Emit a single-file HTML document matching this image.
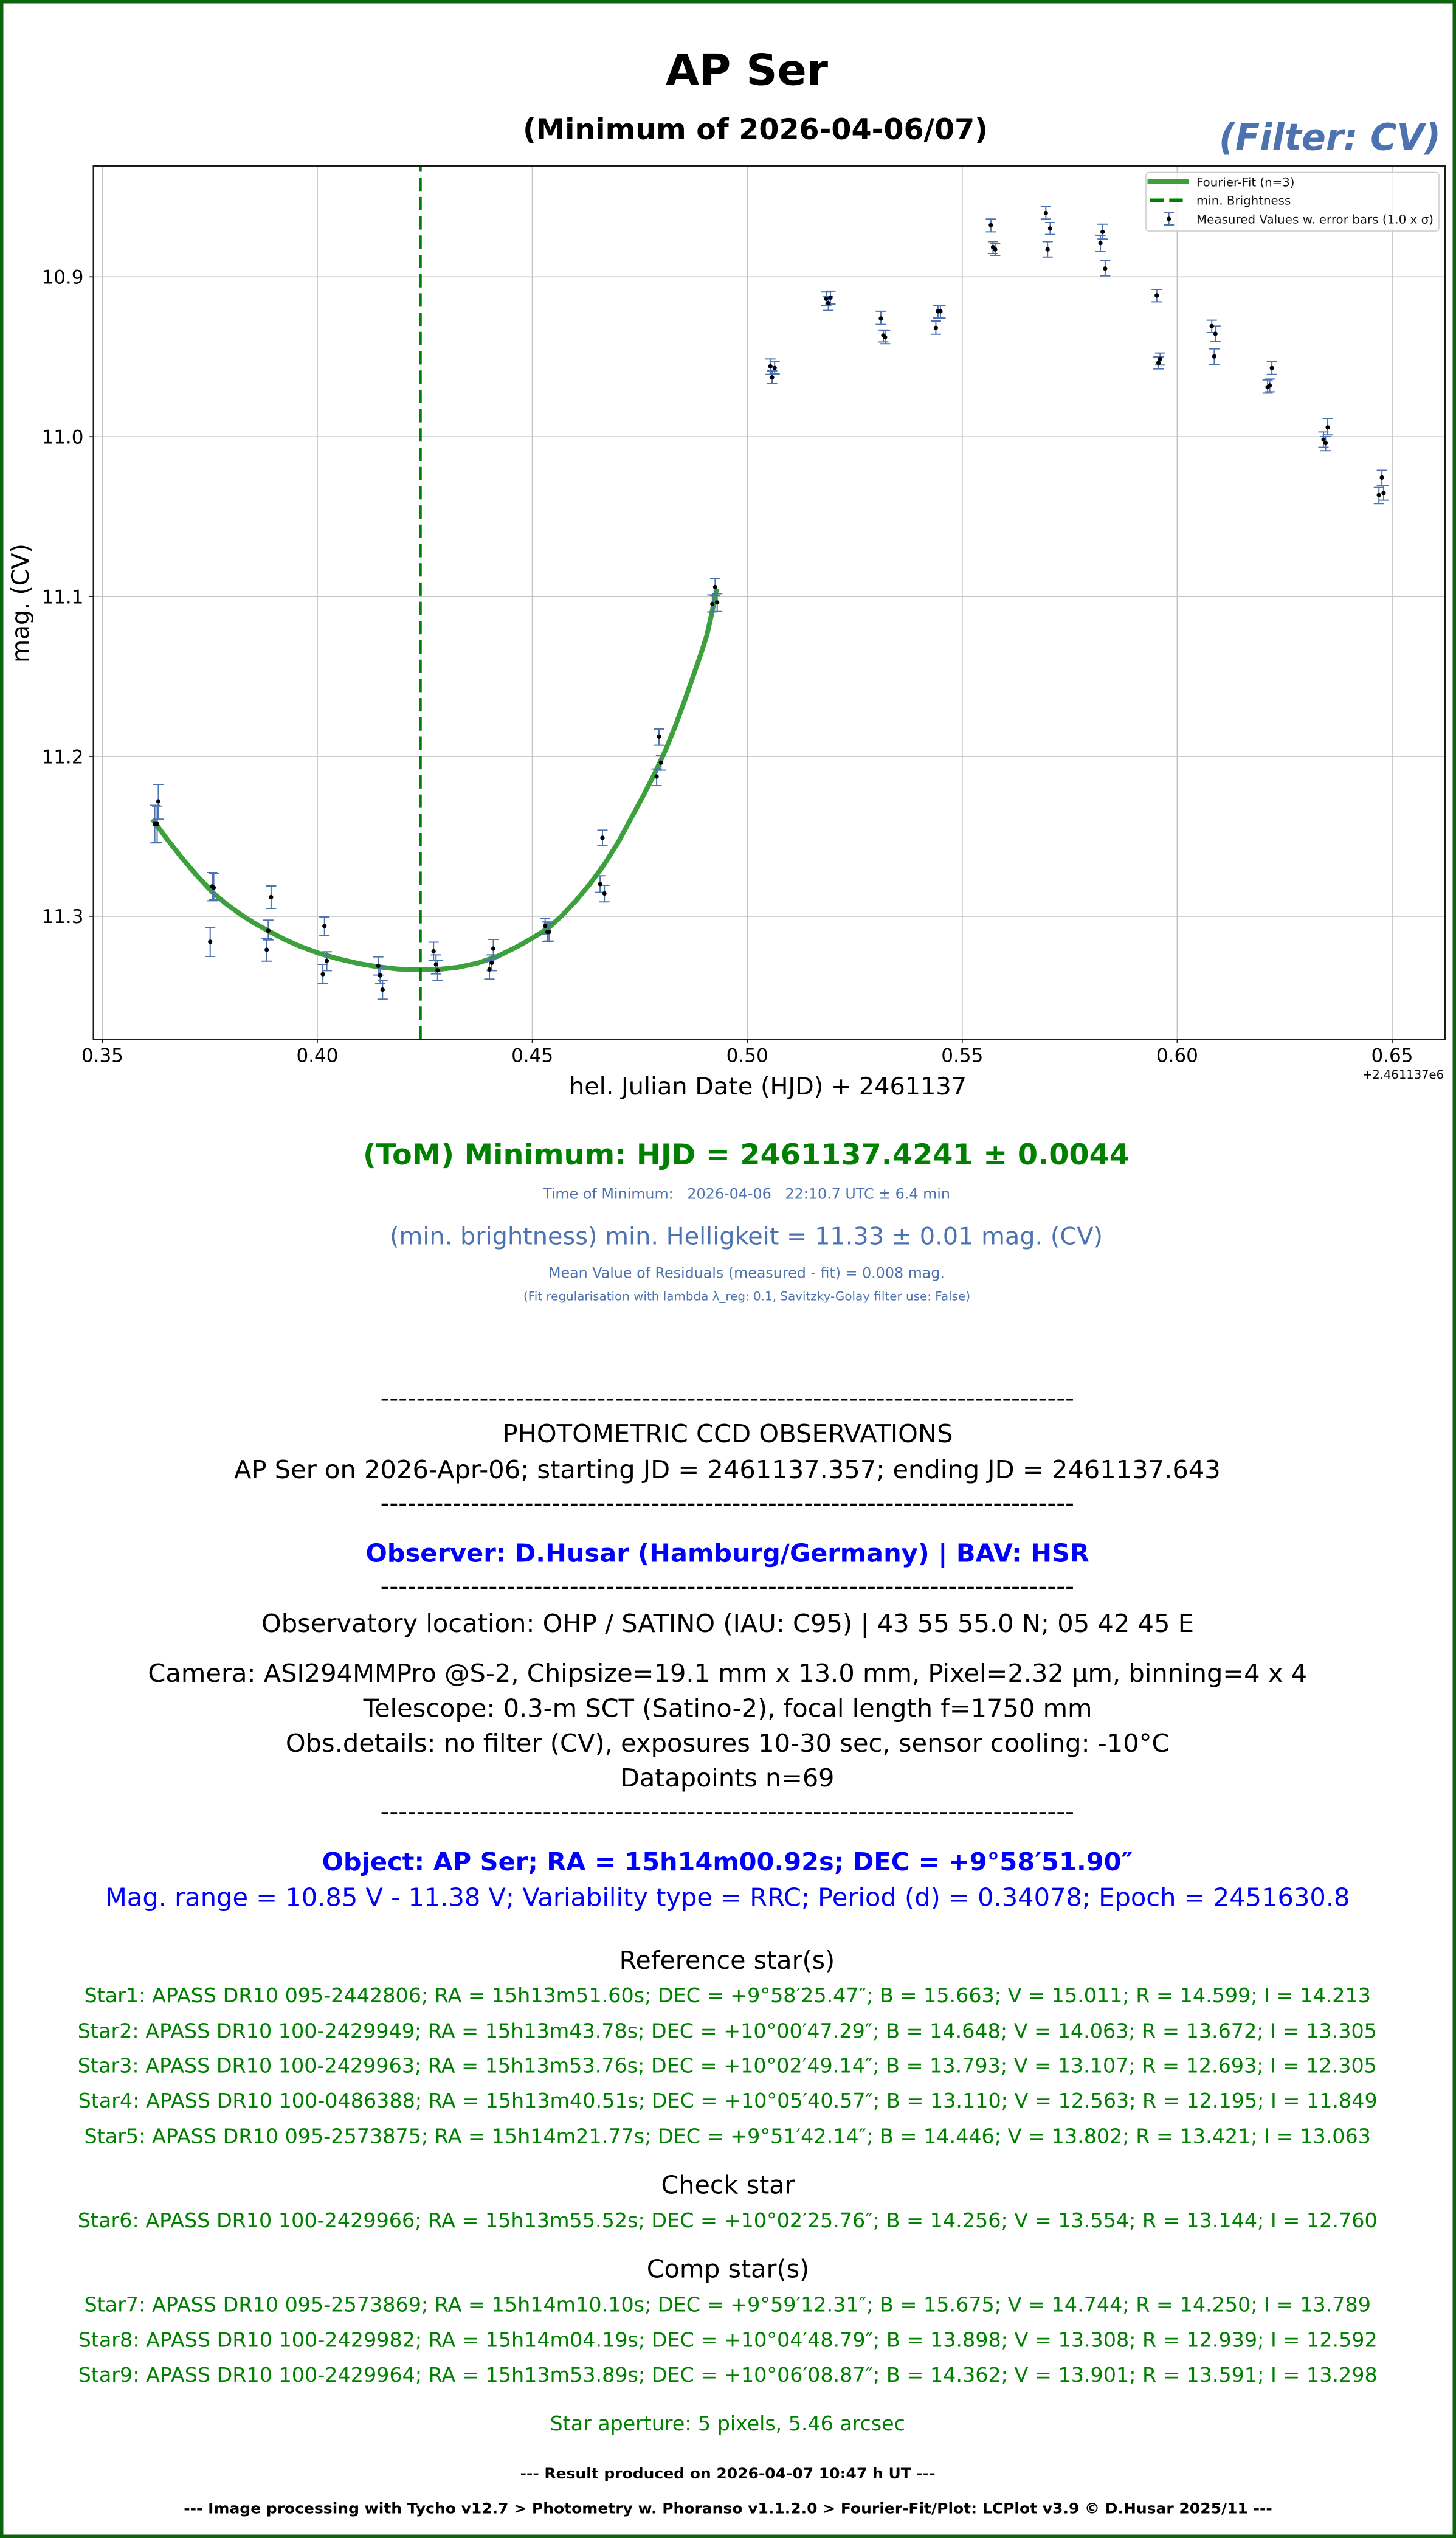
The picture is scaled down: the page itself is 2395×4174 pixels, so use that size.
<!DOCTYPE html>
<html><head><meta charset="utf-8"><style>
html,body{margin:0;padding:0;background:#fff;}
svg{display:block;}
text{font-family:"DejaVu Sans","Liberation Sans",sans-serif;}
.b{font-weight:bold;}
.tk{font-size:31px;fill:#000;}
.bl{fill:#4c72b0;}
.gr{fill:#008000;}
.blue{fill:#0000ff;}
.n41{font-size:41.3px;fill:#000;}
.s33{font-size:33px;fill:#008000;}
</style></head><body>
<svg width="2395" height="4174" viewBox="0 0 2395 4174" xmlns="http://www.w3.org/2000/svg">
<rect x="0" y="0" width="2395" height="4174" fill="#fff"/>
<rect x="2.75" y="2.75" width="2389.5" height="4168.5" fill="none" stroke="#0b640b" stroke-width="5.5"/>

<!-- Titles -->
<text x="1095" y="139.7" class="b" font-size="70" textLength="267" lengthAdjust="spacingAndGlyphs">AP Ser</text>
<text x="860" y="229" class="b" font-size="47.5" textLength="765" lengthAdjust="spacingAndGlyphs">(Minimum of 2026-04-06/07)</text>
<text x="2005" y="246.4" class="b bl" font-size="61" font-style="italic" textLength="365" lengthAdjust="spacingAndGlyphs">(Filter: CV)</text>

<!-- Grid -->
<g stroke="#c4c4c4" stroke-width="1.7">
<line x1="168.4" y1="273" x2="168.4" y2="1709"/>
<line x1="522" y1="273" x2="522" y2="1709"/>
<line x1="875.6" y1="273" x2="875.6" y2="1709"/>
<line x1="1229.2" y1="273" x2="1229.2" y2="1709"/>
<line x1="1582.8" y1="273" x2="1582.8" y2="1709"/>
<line x1="1936.4" y1="273" x2="1936.4" y2="1709"/>
<line x1="2290" y1="273" x2="2290" y2="1709"/>
<line x1="153.5" y1="455.3" x2="2377" y2="455.3"/>
<line x1="153.5" y1="718.2" x2="2377" y2="718.2"/>
<line x1="153.5" y1="981.1" x2="2377" y2="981.1"/>
<line x1="153.5" y1="1244" x2="2377" y2="1244"/>
<line x1="153.5" y1="1506.9" x2="2377" y2="1506.9"/>
</g>

<!-- Fourier fit curve -->
<polyline fill="none" stroke="#3ca03c" stroke-width="8" stroke-linejoin="round" points="250.7,1347.2 274,1379 297.6,1409 323,1439 349.6,1467.6 372,1486.5 395.2,1503.4 418,1518 442,1531.3 467,1544.5 492.7,1556 525.3,1568 557,1577 590.3,1584.7 622,1590 655.4,1593.8 692.4,1595 720.4,1594.4 752,1591 785.5,1584 818,1573 850.5,1557 877,1542 902.5,1526 925,1505 948.1,1480.6 971,1453 993.6,1422.1 1017,1385 1039.1,1344 1059,1307 1078.2,1269.2 1095,1233 1110.7,1194.4 1127,1150 1143.2,1103.3 1153,1075 1162.7,1044.8 1171,1008 1179,968"/>

<!-- min brightness dashed line -->
<line x1="691.5" y1="1709" x2="691.5" y2="273" stroke="#008000" stroke-width="4.5" stroke-dasharray="22 9.7"/>

<!-- Error bars -->
<path fill="none" stroke="#4c72b0" stroke-width="2" d="
M254.6 1324.5V1386.3M246.1 1324.5h17M246.1 1386.3h17
M258.5 1325.8V1385M250 1325.8h17M250 1385h17
M260.5 1290V1347.3M252 1290h17M252 1347.3h17
M349 1435V1481.4M340.5 1435h17M340.5 1481.4h17
M351.6 1437V1480M343.1 1437h17M343.1 1480h17
M345.7 1526V1573M337.2 1526h17M337.2 1573h17
M441.3 1513.3V1545.7M432.8 1513.3h17M432.8 1545.7h17
M438.7 1544V1580.8M430.2 1544h17M430.2 1580.8h17
M445.9 1457V1494M437.4 1457h17M437.4 1494h17
M533.7 1508V1538.5M525.2 1508h17M525.2 1538.5h17
M537.6 1565.2V1596.4M529.1 1565.2h17M529.1 1596.4h17
M531.1 1586V1617.9M522.6 1586h17M522.6 1617.9h17
M622.2 1573.6V1603.6M613.7 1573.6h17M613.7 1603.6h17
M625.4 1590V1618M616.9 1590h17M616.9 1618h17
M629.3 1612.6V1643.2M620.8 1612.6h17M620.8 1643.2h17
M713.2 1549.5V1580M704.7 1549.5h17M704.7 1580h17
M717.2 1570.4V1601.6M708.7 1570.4h17M708.7 1601.6h17
M719.8 1580V1612M711.3 1580h17M711.3 1612h17
M811.5 1545V1575.6M803 1545h17M803 1575.6h17
M808.9 1570.4V1596.4M800.4 1570.4h17M800.4 1596.4h17
M805 1579.5V1610.3M796.5 1579.5h17M796.5 1610.3h17
M896.7 1510.5V1535.9M888.2 1510.5h17M888.2 1535.9h17
M900.6 1516.3V1548.9M892.1 1516.3h17M892.1 1548.9h17
M903.2 1517.7V1547.6M894.7 1517.7h17M894.7 1547.6h17
M991 1365.4V1390.8M982.5 1365.4h17M982.5 1390.8h17
M987.1 1440.3V1467.6M978.6 1440.3h17M978.6 1467.6h17
M994.2 1456V1483.2M985.7 1456h17M985.7 1483.2h17
M1084 1198.9V1225.6M1075.5 1198.9h17M1075.5 1225.6h17
M1087.3 1242.5V1266.6M1078.8 1242.5h17M1078.8 1266.6h17
M1080.1 1264.6V1292M1071.6 1264.6h17M1071.6 1292h17
M1176.4 951.7V979.7M1167.9 951.7h17M1167.9 979.7h17
M1171.8 978.4V1006.4M1163.3 978.4h17M1163.3 1006.4h17
M1179.7 976.5V1005.7M1171.2 976.5h17M1171.2 1005.7h17
M1267.2 590.4V615.7M1258.7 590.4h17M1258.7 615.7h17
M1274.2 594V615M1265.7 594h17M1265.7 615h17
M1270 610V631M1261.5 610h17M1261.5 631h17
M1359 480.3V502.7M1350.5 480.3h17M1350.5 502.7h17
M1366 478.9V500M1357.5 478.9h17M1357.5 500h17
M1362.6 488V510.5M1354.1 488h17M1354.1 510.5h17
M1448.9 511.9V533.6M1440.4 511.9h17M1440.4 533.6h17
M1453 542.7V562.4M1444.5 542.7h17M1444.5 562.4h17
M1455.9 544V565.2M1447.4 544h17M1447.4 565.2h17
M1539.4 528V549.7M1530.9 528h17M1530.9 549.7h17
M1542.9 502V523M1534.4 502h17M1534.4 523h17
M1547 502.7V523.1M1538.5 502.7h17M1538.5 523.1h17
M1629.9 360.3V381.4M1621.4 360.3h17M1621.4 381.4h17
M1633.4 397.5V417M1624.9 397.5h17M1624.9 417h17
M1636.9 400V420M1628.4 400h17M1628.4 420h17
M1720.3 339.3V360.3M1711.8 339.3h17M1711.8 360.3h17
M1727.4 366V385.6M1718.9 366h17M1718.9 385.6h17
M1723.2 397.5V422.8M1714.7 397.5h17M1714.7 422.8h17
M1813.6 368.7V393.3M1805.1 368.7h17M1805.1 393.3h17
M1810.1 387V413M1801.6 387h17M1801.6 413h17
M1817.9 429V453.6M1809.4 429h17M1809.4 453.6h17
M1902.7 476V496.4M1894.2 476h17M1894.2 496.4h17
M1905.6 587V606.6M1897.1 587h17M1897.1 606.6h17
M1908.3 580.6V600.2M1899.8 580.6h17M1899.8 600.2h17
M1993.2 526.6V547M1984.7 526.6h17M1984.7 547h17
M1999.3 536.4V561.7M1990.8 536.4h17M1990.8 561.7h17
M1997.4 573.6V599.5M1988.9 573.6h17M1988.9 599.5h17
M2092.1 594V615.7M2083.6 594h17M2083.6 615.7h17
M2085.1 624.8V646.5M2076.6 624.8h17M2076.6 646.5h17
M2088.6 623.4V644.4M2080.1 623.4h17M2080.1 644.4h17
M2184 688V715.3M2175.5 688h17M2175.5 715.3h17
M2177 710.4V735.6M2168.5 710.4h17M2168.5 735.6h17
M2180.5 718V741.2M2172 718h17M2172 741.2h17
M2273.1 773.5V798M2264.6 773.5h17M2264.6 798h17
M2268.2 801.6V828.2M2259.7 801.6h17M2259.7 828.2h17
M2275.9 798V822.6M2267.4 798h17M2267.4 822.6h17"/>

<!-- Data points -->
<g fill="#000">
<circle cx="254.6" cy="1355.1" r="3.6"/><circle cx="258.5" cy="1355.1" r="3.6"/><circle cx="260.5" cy="1318" r="3.6"/>
<circle cx="349" cy="1457.8" r="3.6"/><circle cx="351.6" cy="1459.8" r="3.6"/><circle cx="345.7" cy="1548.9" r="3.6"/>
<circle cx="441.3" cy="1530.7" r="3.6"/><circle cx="438.7" cy="1561.9" r="3.6"/><circle cx="445.9" cy="1475.4" r="3.6"/>
<circle cx="533.7" cy="1522.9" r="3.6"/><circle cx="537.6" cy="1580.1" r="3.6"/><circle cx="531.1" cy="1602.2" r="3.6"/>
<circle cx="622.2" cy="1588.6" r="3.6"/><circle cx="625.4" cy="1604.2" r="3.6"/><circle cx="629.3" cy="1627.6" r="3.6"/>
<circle cx="713.2" cy="1564.5" r="3.6"/><circle cx="717.2" cy="1586" r="3.6"/><circle cx="719.8" cy="1595.8" r="3.6"/>
<circle cx="811.5" cy="1560" r="3.6"/><circle cx="808.9" cy="1583.4" r="3.6"/><circle cx="805" cy="1594.4" r="3.6"/>
<circle cx="896.7" cy="1522.9" r="3.6"/><circle cx="900.6" cy="1532.6" r="3.6"/><circle cx="903.2" cy="1532.6" r="3.6"/>
<circle cx="991" cy="1377.8" r="3.6"/><circle cx="987.1" cy="1453.9" r="3.6"/><circle cx="994.2" cy="1469.5" r="3.6"/>
<circle cx="1084" cy="1211.3" r="3.6"/><circle cx="1087.3" cy="1254.2" r="3.6"/><circle cx="1080.1" cy="1277" r="3.6"/>
<circle cx="1176.4" cy="965.4" r="3.6"/><circle cx="1171.8" cy="993.4" r="3.6"/><circle cx="1179.7" cy="990.8" r="3.6"/>
<circle cx="1267.2" cy="602.4" r="3.6"/><circle cx="1274.2" cy="605.2" r="3.6"/><circle cx="1270" cy="620.6" r="3.6"/>
<circle cx="1359" cy="491.5" r="3.6"/><circle cx="1366" cy="489.4" r="3.6"/><circle cx="1362.6" cy="498.5" r="3.6"/>
<circle cx="1448.9" cy="523.8" r="3.6"/><circle cx="1453" cy="551.8" r="3.6"/><circle cx="1455.9" cy="554.6" r="3.6"/>
<circle cx="1539.4" cy="539.2" r="3.6"/><circle cx="1542.9" cy="511.9" r="3.6"/><circle cx="1547" cy="511.9" r="3.6"/>
<circle cx="1629.9" cy="370.2" r="3.6"/><circle cx="1633.4" cy="406.6" r="3.6"/><circle cx="1636.9" cy="410.1" r="3.6"/>
<circle cx="1720.3" cy="350.5" r="3.6"/><circle cx="1727.4" cy="375.8" r="3.6"/><circle cx="1723.2" cy="410.1" r="3.6"/>
<circle cx="1813.6" cy="381.4" r="3.6"/><circle cx="1810.1" cy="399.6" r="3.6"/><circle cx="1817.9" cy="441.7" r="3.6"/>
<circle cx="1902.7" cy="485.9" r="3.6"/><circle cx="1905.6" cy="596.7" r="3.6"/><circle cx="1908.3" cy="590.4" r="3.6"/>
<circle cx="1993.2" cy="536.4" r="3.6"/><circle cx="1999.3" cy="549" r="3.6"/><circle cx="1997.4" cy="586.2" r="3.6"/>
<circle cx="2092.1" cy="605.2" r="3.6"/><circle cx="2085.1" cy="636.7" r="3.6"/><circle cx="2088.6" cy="633.9" r="3.6"/>
<circle cx="2184" cy="702.7" r="3.6"/><circle cx="2177" cy="723" r="3.6"/><circle cx="2180.5" cy="728.6" r="3.6"/>
<circle cx="2273.1" cy="785.4" r="3.6"/><circle cx="2268.2" cy="814.2" r="3.6"/><circle cx="2275.9" cy="810.7" r="3.6"/>
</g>

<!-- Legend -->
<rect x="1885" y="283.5" width="482" height="96.5" rx="5" fill="#fff" fill-opacity="0.8" stroke="#cccccc" stroke-width="1.5"/>
<line x1="1887.5" y1="299" x2="1956" y2="299" stroke="#3ca03c" stroke-width="8"/>
<line x1="1891.7" y1="329.3" x2="1945.7" y2="329.3" stroke="#008000" stroke-width="5.5" stroke-dasharray="22.3 9.3"/>
<path fill="none" stroke="#4c72b0" stroke-width="2" d="M1922.7 350V370M1914.2 350h17M1914.2 370h17"/>
<circle cx="1922.7" cy="360" r="3.6" fill="#000"/>
<g font-size="19.6" fill="#111">
<text x="1968" y="306.5" textLength="161.4" lengthAdjust="spacingAndGlyphs">Fourier-Fit (n=3)</text>
<text x="1968" y="336.5" textLength="155.3" lengthAdjust="spacingAndGlyphs">min. Brightness</text>
<text x="1968" y="367.5" textLength="390" lengthAdjust="spacingAndGlyphs">Measured Values w. error bars (1.0 x σ)</text>
</g>

<!-- Axes frame -->
<rect x="153.5" y="273" width="2223.5" height="1436" fill="none" stroke="#1a1a1a" stroke-width="2"/>

<!-- Ticks -->
<g stroke="#1a1a1a" stroke-width="1.7">
<line x1="168.4" y1="1709" x2="168.4" y2="1716"/>
<line x1="522" y1="1709" x2="522" y2="1716"/>
<line x1="875.6" y1="1709" x2="875.6" y2="1716"/>
<line x1="1229.2" y1="1709" x2="1229.2" y2="1716"/>
<line x1="1582.8" y1="1709" x2="1582.8" y2="1716"/>
<line x1="1936.4" y1="1709" x2="1936.4" y2="1716"/>
<line x1="2290" y1="1709" x2="2290" y2="1716"/>
<line x1="146.5" y1="455.3" x2="153.5" y2="455.3"/>
<line x1="146.5" y1="718.2" x2="153.5" y2="718.2"/>
<line x1="146.5" y1="981.1" x2="153.5" y2="981.1"/>
<line x1="146.5" y1="1244" x2="153.5" y2="1244"/>
<line x1="146.5" y1="1506.9" x2="153.5" y2="1506.9"/>
</g>
<g class="tk" text-anchor="middle">
<text x="168.4" y="1746.3">0.35</text>
<text x="522" y="1746.3">0.40</text>
<text x="875.6" y="1746.3">0.45</text>
<text x="1229.2" y="1746.3">0.50</text>
<text x="1582.8" y="1746.3">0.55</text>
<text x="1936.4" y="1746.3">0.60</text>
<text x="2290" y="1746.3">0.65</text>
</g>
<g class="tk" text-anchor="end">
<text x="137.5" y="466.6">10.9</text>
<text x="137.5" y="729.5">11.0</text>
<text x="137.5" y="992.4">11.1</text>
<text x="137.5" y="1255.3">11.2</text>
<text x="137.5" y="1518.2">11.3</text>
</g>
<text x="2241" y="1774" font-size="19.5" textLength="134" lengthAdjust="spacingAndGlyphs">+2.461137e6</text>
<text x="936" y="1800" font-size="39" textLength="654" lengthAdjust="spacingAndGlyphs">hel. Julian Date (HJD) + 2461137</text>
<text transform="translate(47,992) rotate(-90)" text-anchor="middle" font-size="39">mag. (CV)</text>

<!-- Result texts -->
<text x="597" y="1915" class="b gr" font-size="47.5" textLength="1261" lengthAdjust="spacingAndGlyphs">(ToM) Minimum: HJD = 2461137.4241 ± 0.0044</text>
<text x="893" y="1971.6" class="bl" font-size="23.7" textLength="670" lengthAdjust="spacingAndGlyphs" xml:space="preserve" style="white-space:pre">Time of Minimum:   2026-04-06   22:10.7 UTC ± 6.4 min</text>
<text x="641" y="2046.6" class="bl" font-size="39" textLength="1173" lengthAdjust="spacingAndGlyphs">(min. brightness) min. Helligkeit = 11.33 ± 0.01 mag. (CV)</text>
<text x="902" y="2101.7" class="bl" font-size="23.7" textLength="652" lengthAdjust="spacingAndGlyphs">Mean Value of Residuals (measured - fit) = 0.008 mag.</text>
<text x="861" y="2138.5" class="bl" font-size="19.7" textLength="735" lengthAdjust="spacingAndGlyphs">(Fit regularisation with lambda λ_reg: 0.1, Savitzky-Golay filter use: False)</text>

<text x="625.6" y="2313" class="n41" textLength="1141.3" lengthAdjust="spacingAndGlyphs">-----------------------------------------------------------------------------</text>
<text x="826.5" y="2371.9" class="n41" textLength="741" lengthAdjust="spacingAndGlyphs">PHOTOMETRIC CCD OBSERVATIONS</text>
<text x="385" y="2430.8" class="n41" textLength="1622.7" lengthAdjust="spacingAndGlyphs">AP Ser on 2026-Apr-06; starting JD = 2461137.357; ending JD = 2461137.643</text>
<text x="625.6" y="2485.7" class="n41" textLength="1141.3" lengthAdjust="spacingAndGlyphs">-----------------------------------------------------------------------------</text>
<text x="601.5" y="2568.6" class="b blue" font-size="41.3" textLength="1190.4" lengthAdjust="spacingAndGlyphs">Observer: D.Husar (Hamburg/Germany) | BAV: HSR</text>
<text x="625.6" y="2622.7" class="n41" textLength="1141.3" lengthAdjust="spacingAndGlyphs">-----------------------------------------------------------------------------</text>
<text x="430" y="2684.1" class="n41" textLength="1534" lengthAdjust="spacingAndGlyphs">Observatory location: OHP / SATINO (IAU: C95) | 43 55 55.0 N; 05 42 45 E</text>
<text x="243.4" y="2766" class="n41" textLength="1906.7" lengthAdjust="spacingAndGlyphs">Camera: ASI294MMPro @S-2, Chipsize=19.1 mm x 13.0 mm, Pixel=2.32 µm, binning=4 x 4</text>
<text x="597.7" y="2823.4" class="n41" textLength="1198.8" lengthAdjust="spacingAndGlyphs">Telescope: 0.3-m SCT (Satino-2), focal length f=1750 mm</text>
<text x="469.9" y="2880.8" class="n41" textLength="1453.7" lengthAdjust="spacingAndGlyphs">Obs.details: no filter (CV), exposures 10-30 sec, sensor cooling: -10°C</text>
<text x="1020.1" y="2938.2" class="n41" textLength="352.4" lengthAdjust="spacingAndGlyphs">Datapoints n=69</text>
<text x="625.6" y="2993" class="n41" textLength="1141.3" lengthAdjust="spacingAndGlyphs">-----------------------------------------------------------------------------</text>

<text x="529.6" y="3075.8" class="b blue" font-size="41.3" textLength="1333.5" lengthAdjust="spacingAndGlyphs">Object: AP Ser; RA = 15h14m00.92s; DEC = +9°58′51.90″</text>
<text x="173" y="3134.7" class="blue" font-size="41.3" textLength="2047.5" lengthAdjust="spacingAndGlyphs">Mag. range = 10.85 V - 11.38 V; Variability type = RRC; Period (d) = 0.34078; Epoch = 2451630.8</text>

<text x="1018.6" y="3238" class="n41" textLength="354.7" lengthAdjust="spacingAndGlyphs">Reference star(s)</text>
<text x="138.5" y="3293.1" class="s33" textLength="2116.5" lengthAdjust="spacingAndGlyphs">Star1: APASS DR10 095-2442806; RA = 15h13m51.60s; DEC = +9°58′25.47″; B = 15.663; V = 15.011; R = 14.599; I = 14.213</text>
<text x="127.8" y="3351.3" class="s33" textLength="2137.1" lengthAdjust="spacingAndGlyphs">Star2: APASS DR10 100-2429949; RA = 15h13m43.78s; DEC = +10°00′47.29″; B = 14.648; V = 14.063; R = 13.672; I = 13.305</text>
<text x="127.8" y="3408.7" class="s33" textLength="2137.1" lengthAdjust="spacingAndGlyphs">Star3: APASS DR10 100-2429963; RA = 15h13m53.76s; DEC = +10°02′49.14″; B = 13.793; V = 13.107; R = 12.693; I = 12.305</text>
<text x="128.6" y="3466" class="s33" textLength="2137.1" lengthAdjust="spacingAndGlyphs">Star4: APASS DR10 100-0486388; RA = 15h13m40.51s; DEC = +10°05′40.57″; B = 13.110; V = 12.563; R = 12.195; I = 11.849</text>
<text x="138.5" y="3524.3" class="s33" textLength="2116.5" lengthAdjust="spacingAndGlyphs">Star5: APASS DR10 095-2573875; RA = 15h14m21.77s; DEC = +9°51′42.14″; B = 14.446; V = 13.802; R = 13.421; I = 13.063</text>

<text x="1087.5" y="3607.7" class="n41" textLength="220" lengthAdjust="spacingAndGlyphs">Check star</text>
<text x="127.8" y="3662.8" class="s33" textLength="2137.9" lengthAdjust="spacingAndGlyphs">Star6: APASS DR10 100-2429966; RA = 15h13m55.52s; DEC = +10°02′25.76″; B = 14.256; V = 13.554; R = 13.144; I = 12.760</text>

<text x="1063.8" y="3745.4" class="n41" textLength="267.4" lengthAdjust="spacingAndGlyphs">Comp star(s)</text>
<text x="138.5" y="3801.3" class="s33" textLength="2116.5" lengthAdjust="spacingAndGlyphs">Star7: APASS DR10 095-2573869; RA = 15h14m10.10s; DEC = +9°59′12.31″; B = 15.675; V = 14.744; R = 14.250; I = 13.789</text>
<text x="128.6" y="3859.5" class="s33" textLength="2137.1" lengthAdjust="spacingAndGlyphs">Star8: APASS DR10 100-2429982; RA = 15h14m04.19s; DEC = +10°04′48.79″; B = 13.898; V = 13.308; R = 12.939; I = 12.592</text>
<text x="128.6" y="3916.8" class="s33" textLength="2137.1" lengthAdjust="spacingAndGlyphs">Star9: APASS DR10 100-2429964; RA = 15h13m53.89s; DEC = +10°06′08.87″; B = 14.362; V = 13.901; R = 13.591; I = 13.298</text>

<text x="904.6" y="3997.2" class="s33" textLength="584.3" lengthAdjust="spacingAndGlyphs">Star aperture: 5 pixels, 5.46 arcsec</text>

<text x="855.6" y="4076" class="b" font-size="24" fill="#000" textLength="683" lengthAdjust="spacingAndGlyphs">--- Result produced on 2026-04-07 10:47 h UT ---</text>
<text x="302.3" y="4133.4" class="b" font-size="24" fill="#000" textLength="1790.4" lengthAdjust="spacingAndGlyphs">--- Image processing with Tycho v12.7 &gt; Photometry w. Phoranso v1.1.2.0 &gt; Fourier-Fit/Plot: LCPlot v3.9 © D.Husar 2025/11 ---</text>
</svg>
</body></html>
